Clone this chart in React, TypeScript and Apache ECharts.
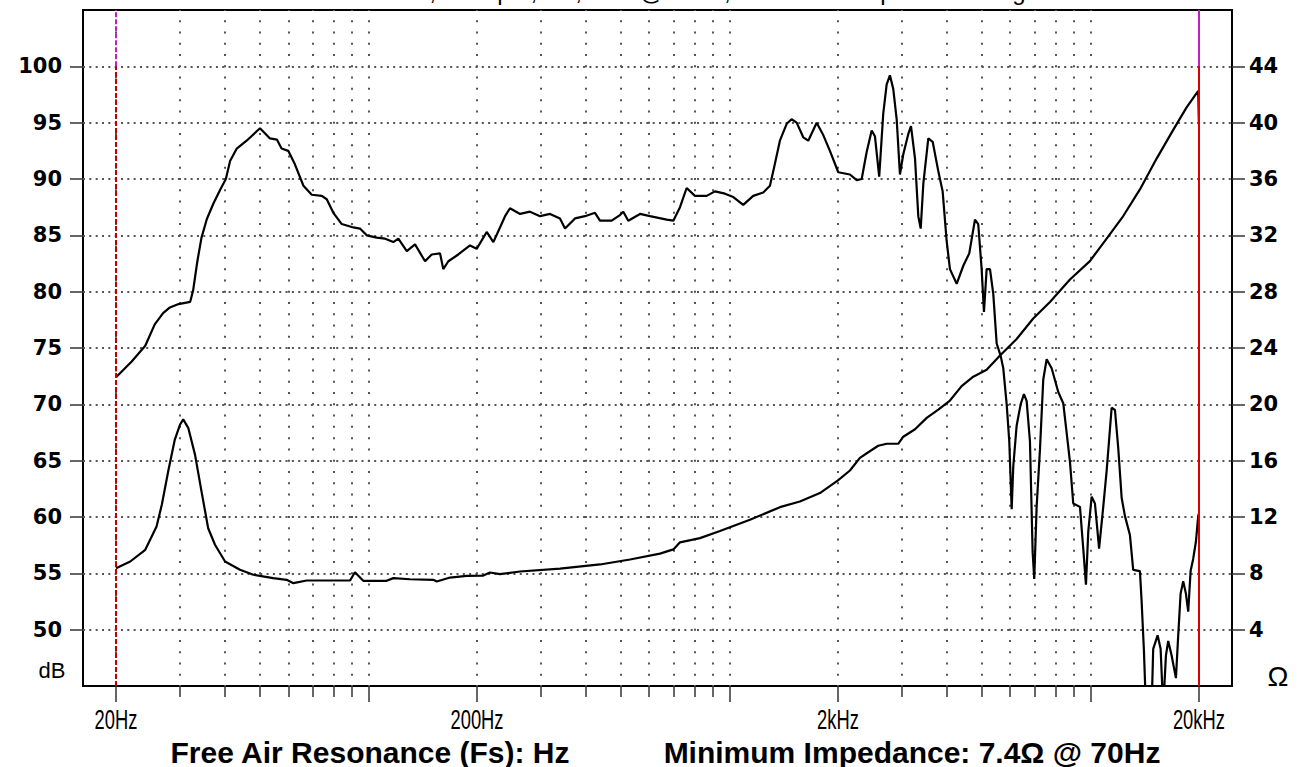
import React, { useEffect, useRef } from 'react';
import * as echarts from 'echarts';

// ---- Data (frequency in Hz, SPL in dB) ----
const SPL_POINTS: number[][] = [
  [20, 72.4], [22.1, 73.8], [24.1, 75.2], [25.6, 77.1], [27.0, 78.1], [28.2, 78.6], [29.8, 78.9],
  [32.1, 79.1], [32.7, 80.1], [33.6, 82.7], [34.5, 84.8], [35.7, 86.45], [37.2, 87.8], [38.8, 89.0],
  [40.3, 90.0], [41.4, 91.6], [43.2, 92.7], [46.0, 93.4], [50.1, 94.5], [53.4, 93.6], [55.8, 93.5],
  [57.5, 92.7], [60.0, 92.5], [62.6, 91.3], [66.1, 89.4], [69.7, 88.6], [74.3, 88.5], [76.7, 88.2],
  [80.0, 87.0], [84.4, 86.0], [90.9, 85.7], [94.8, 85.6], [99.0, 85.0], [105.5, 84.8], [111.3, 84.7],
  [117.3, 84.4], [121.1, 84.7], [127.8, 83.6], [134.7, 84.2], [143.6, 82.7], [149.8, 83.3], [158.0, 83.4],
  [161.3, 82.0], [166.6, 82.7], [177.5, 83.3], [191.3, 84.1], [199.6, 83.8], [212.8, 85.3], [222.0, 84.4],
  [231.6, 85.7], [239.2, 86.7], [246.8, 87.4], [263.2, 86.9], [280.4, 87.1], [299.1, 86.7], [318.7, 86.9],
  [339.6, 86.5], [350.7, 85.6], [373.7, 86.5], [398.3, 86.7], [424.5, 87.0], [438.3, 86.3], [472.2, 86.3],
  [497.8, 86.8], [508.6, 87.1], [525.0, 86.3], [565.7, 86.9], [603.0, 86.7], [670.8, 86.4], [699.8, 86.3],
  [730.2, 87.5], [761.8, 89.2], [803.2, 88.5], [865.6, 88.5], [912.6, 88.9], [972.8, 88.7], [1026, 88.4],
  [1093, 87.7], [1165, 88.5], [1242, 88.8], [1296, 89.4], [1324, 90.7], [1381, 93.4], [1442, 94.9],
  [1488, 95.3], [1537, 95.0], [1603, 93.7], [1655, 93.4], [1746, 95.0], [1821, 93.9], [1900, 92.5],
  [2004, 90.6], [2159, 90.4], [2254, 89.9], [2327, 90.0], [2402, 92.4], [2480, 94.3], [2532, 93.8],
  [2602, 90.2], [2670, 95.8], [2729, 98.4], [2786, 99.2], [2846, 98.0], [2909, 95.3], [2970, 90.4],
  [3034, 92.2], [3133, 94.0], [3187, 94.7], [3270, 91.8], [3339, 86.7], [3391, 85.6], [3448, 89.6],
  [3559, 93.6], [3660, 93.3], [3793, 90.7], [3900, 88.9], [4001, 84.5], [4086, 82.0], [4265, 80.7],
  [4449, 82.3], [4622, 83.4], [4793, 86.4], [4894, 86.0], [5002, 82.0], [5076, 78.2], [5164, 82.0],
  [5275, 82.0], [5387, 79.8], [5505, 75.4], [5647, 74.3], [5742, 73.2], [5868, 70.0], [5966, 66.7],
  [6058, 60.7], [6120, 64.5], [6252, 68.1], [6414, 70.0], [6550, 70.9], [6664, 70.3], [6807, 66.7],
  [6924, 56.9], [6996, 54.5], [7103, 60.9], [7256, 66.0], [7410, 72.2], [7572, 74.0], [7818, 73.2],
  [8153, 71.1], [8418, 70.1], [8786, 64.9], [8972, 61.2], [9365, 60.9], [9564, 57.2], [9730, 54.0],
  [9874, 58.7], [10090, 61.8], [10304, 61.2], [10580, 57.2], [10864, 60.9], [11102, 64.1], [11462, 69.7],
  [11706, 69.5], [11956, 66.1], [12218, 61.7], [12474, 60.1], [12880, 58.4], [13153, 55.3], [13728, 55.2],
  [13878, 52.5], [14081, 48.2], [14264, 43], [14791, 43], [14942, 48.3], [15368, 49.5], [15664, 48.3],
  [15926, 43], [16204, 47.7], [16444, 49.0], [16804, 47.7], [17272, 45.7], [17528, 49.5], [17796, 53.2],
  [18094, 54.3], [18408, 53.2], [18680, 51.6], [18967, 55.2], [19286, 56.3], [19620, 57.8], [19912, 60.1],
  [20000, 60.3],
];

// ---- Data (frequency in Hz, impedance in ohms) ----
const IMPEDANCE_POINTS: number[][] = [
  [20, 8.36], [21.9, 8.84], [24.1, 9.67], [25.9, 11.33], [26.8, 12.9], [27.9, 15.25], [29.1, 17.5],
  [30.1, 18.57], [30.7, 18.93], [31.7, 18.33], [33.1, 16.43], [34.5, 13.82], [36.0, 11.2], [37.6, 10.03],
  [40.1, 8.84], [44.1, 8.25], [48.0, 7.9], [54.5, 7.66], [59.4, 7.54], [62.0, 7.3], [67.5, 7.49],
  [80.0, 7.49], [89.0, 7.49], [91.8, 8.08], [96.8, 7.47], [112.4, 7.47], [117.3, 7.66], [130.4, 7.58],
  [151.4, 7.54], [154.7, 7.42], [168.4, 7.7], [187.3, 7.82], [208.2, 7.84], [217.3, 8.06], [231.6, 7.94],
  [263.2, 8.13], [339.6, 8.34], [438.3, 8.63], [530.8, 8.98], [642.6, 9.4], [700, 9.7], [730.2, 10.2],
  [829.4, 10.5], [942.2, 11.0], [1141, 11.8], [1381, 12.7], [1569, 13.1], [1783, 13.7], [2000, 14.6],
  [2159, 15.3], [2301, 16.2], [2427, 16.6], [2586, 17.06], [2729, 17.2], [2938, 17.2], [3034, 17.7],
  [3270, 18.23], [3523, 19.04], [3793, 19.63], [4086, 20.27], [4402, 21.29], [4742, 21.96], [5164, 22.45],
  [5624, 23.47], [6252, 24.64], [6950, 26.09], [7733, 27.26], [8786, 28.86], [9978, 30.17], [11102, 31.77],
  [12342, 33.37], [13728, 35.26], [15270, 37.45], [16978, 39.49], [18490, 41.09], [19912, 42.25], [20000, 39.9],
];

// ---- Axes ----
const FREQ_MIN = 16.2;
const FREQ_MAX = 24700;
const FREQ_MAJOR = [20, 100, 200, 1000, 2000, 10000, 20000];
const FREQ_MINOR = [30, 40, 50, 60, 70, 80, 90, 300, 400, 500, 600, 700, 800, 900, 3000, 4000, 5000, 6000, 7000, 8000, 9000];
const FREQ_LABELS = [20, 200, 2000, 20000];
const FREQ_LABEL_TEXT = ['20Hz', '200Hz', '2kHz', '20kHz'];
const DB_MIN = 45;
const DB_MAX = 105;
const DB_TICKS = [50, 55, 60, 65, 70, 75, 80, 85, 90, 95, 100];
const OHM_MIN = 0;
const OHM_MAX = 48;
const OHM_TICKS = [4, 8, 12, 16, 20, 24, 28, 32, 36, 40, 44];
const MARKER_LOW = 20;
const MARKER_HIGH = 20000;

const TITLE_TEXT = 'Woofer Test, 2V input, 8Ω, SPL @ 1.0m, Smoothed Impedance Magnitude';
const FOOT_LEFT = 'Free Air Resonance (Fs): Hz';
const FOOT_RIGHT = 'Minimum Impedance: 7.4Ω @ 70Hz';

const lg = (v: number) => Math.log10(v);

export default function App() {
  const ref = useRef<HTMLDivElement>(null);

  useEffect(() => {
    if (!ref.current) return;
    const chart = echarts.init(ref.current, null, { renderer: 'svg' });

    const vGrid = { show: true, lineStyle: { color: '#555', width: 2, type: [2, 9.2667], dashOffset: 1 } };
    const tickStyle = { color: '#333', width: 1.5 };

    const baseGraphics: any[] = [
      {
        type: 'text', left: 302, top: -21, silent: true,
        style: { text: TITLE_TEXT, fontSize: 24, fontFamily: 'Liberation Sans', fill: '#000' },
      },
      {
        type: 'text', x: 52, y: 670, silent: true,
        style: { text: 'dB', fontSize: 22, fontFamily: 'Liberation Sans', fill: '#000', align: 'center', verticalAlign: 'middle' },
      },
      {
        type: 'text', x: 1278, y: 676, silent: true,
        style: { text: 'Ω', fontSize: 28, fontFamily: 'Liberation Sans', fill: '#000', align: 'center', verticalAlign: 'middle' },
      },
      {
        type: 'text', x: 370, y: 752, silent: true,
        style: { text: FOOT_LEFT, fontSize: 30, fontWeight: 'bold', fontFamily: 'Liberation Sans', fill: '#000', align: 'center', verticalAlign: 'middle' },
      },
      {
        type: 'text', x: 912, y: 752, silent: true,
        style: { text: FOOT_RIGHT, fontSize: 30, fontWeight: 'bold', fontFamily: 'Liberation Sans', fill: '#000', align: 'center', verticalAlign: 'middle' },
      },
    ];

    const option: any = {
      animation: false,
      backgroundColor: '#ffffff',
      grid: {
        left: 83, right: 69, top: 10, bottom: 81,
        show: true, borderColor: '#000', borderWidth: 2, backgroundColor: '#fff',
      },
      xAxis: [
        {
          type: 'value', position: 'bottom', min: lg(FREQ_MIN), max: lg(FREQ_MAX),
          axisLine: { show: false },
          axisTick: { show: true, customValues: FREQ_MAJOR.map(lg), length: 16, lineStyle: tickStyle },
          axisLabel: { show: false },
          splitLine: vGrid,
        },
        {
          type: 'value', position: 'bottom', min: lg(FREQ_MIN), max: lg(FREQ_MAX),
          axisLine: { show: false },
          axisTick: { show: true, customValues: FREQ_MINOR.map(lg), length: 11, lineStyle: tickStyle },
          axisLabel: { show: false },
          splitLine: vGrid,
        },
      ],
      yAxis: [
        {
          type: 'value', position: 'left', min: DB_MIN, max: DB_MAX,
          axisLine: { show: false },
          axisTick: { show: true, customValues: DB_TICKS, length: 13, lineStyle: tickStyle },
          axisLabel: {
            show: true, customValues: DB_TICKS, margin: 21,
            fontFamily: 'DejaVu Sans', fontWeight: 'bold', fontSize: 21, color: '#000',
          },
          splitLine: { show: true, lineStyle: { color: '#555', width: 2, type: [2, 4.33] } },
        },
        {
          type: 'value', position: 'right', min: OHM_MIN, max: OHM_MAX,
          axisLine: { show: false },
          axisTick: { show: true, customValues: OHM_TICKS, length: 13, lineStyle: tickStyle },
          axisLabel: {
            show: true, customValues: OHM_TICKS, margin: 17,
            fontFamily: 'DejaVu Sans', fontWeight: 'bold', fontSize: 21, color: '#000',
          },
          splitLine: { show: false },
        },
      ],
      series: [
        {
          name: 'SPL', type: 'line', xAxisIndex: 0, yAxisIndex: 0,
          data: SPL_POINTS.map(([f, v]) => [lg(f), v]),
          showSymbol: false, symbol: 'none', clip: true,
          lineStyle: { color: '#000', width: 2.2 },
          z: 3,
          markLine: {
            silent: true, symbol: ['none', 'none'], label: { show: false },
            data: [
              [{ coord: [lg(MARKER_LOW), DB_MIN], lineStyle: { color: '#c00000', width: 2, type: [5, 2] } }, { coord: [lg(MARKER_LOW), 100] }],
              [{ coord: [lg(MARKER_LOW), 100], lineStyle: { color: '#c020c0', width: 2, type: [5, 2] } }, { coord: [lg(MARKER_LOW), DB_MAX] }],
              [{ coord: [lg(MARKER_HIGH), DB_MIN], lineStyle: { color: '#d80000', width: 2, type: 'solid' } }, { coord: [lg(MARKER_HIGH), 100] }],
              [{ coord: [lg(MARKER_HIGH), 100], lineStyle: { color: '#c020c0', width: 2, type: 'solid' } }, { coord: [lg(MARKER_HIGH), DB_MAX] }],
            ],
          },
        },
        {
          name: 'Impedance', type: 'line', xAxisIndex: 0, yAxisIndex: 1,
          data: IMPEDANCE_POINTS.map(([f, v]) => [lg(f), v]),
          showSymbol: false, symbol: 'none', clip: true,
          lineStyle: { color: '#000', width: 2.2 },
          z: 3,
        },
      ],
      graphic: baseGraphics,
    };

    chart.setOption(option);

    // Condensed frequency tick labels, placed through the x axis scale.
    const freqLabels = FREQ_LABELS.map((f, i) => ({
      type: 'text', silent: true,
      x: chart.convertToPixel({ xAxisIndex: 0 }, lg(f)) as number,
      y: 706, scaleX: 0.68,
      style: {
        text: FREQ_LABEL_TEXT[i], fontSize: 27, fontFamily: 'Liberation Sans', fill: '#000',
        align: 'center', verticalAlign: 'top',
      },
    }));
    chart.setOption({ graphic: [...baseGraphics, ...freqLabels] });

    return () => chart.dispose();
  }, []);

  return (
    <div
      ref={ref}
      style={{ position: 'fixed', left: 0, top: 0, width: 1301, height: 767, background: '#fff' }}
    />
  );
}
